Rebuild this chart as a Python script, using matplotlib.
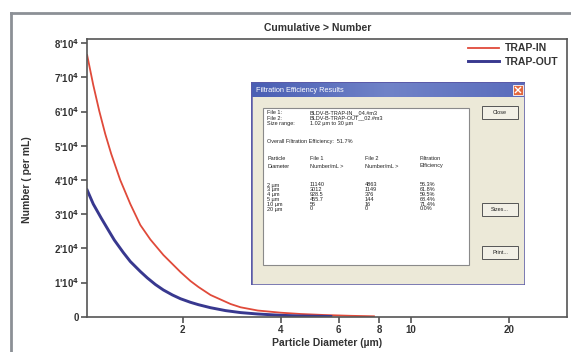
import numpy as np
import matplotlib.pyplot as plt
from matplotlib.patches import Rectangle
from matplotlib.lines import Line2D
from matplotlib.colors import LinearSegmentedColormap

# cumulative number (> d)
d_in = [1.021, 1.066, 1.112, 1.16, 1.21, 1.289, 1.384, 1.485, 1.594, 1.747, 1.97, 2.114, 2.237,
        2.435, 2.805, 3.01, 3.395, 3.993, 4.598, 5.409, 6.546, 7.7]
n_in = [76500, 67750, 60150, 53420, 47570, 39970, 32950, 26810, 22570, 18040, 13070, 10440, 8680,
        6350, 3710, 2750, 1810, 1170, 790, 500, 260, 120]
d_out = [1.021, 1.066, 1.127, 1.185, 1.236, 1.317, 1.384, 1.485, 1.561, 1.651, 1.747, 1.862, 1.97,
         2.114, 2.237, 2.435, 2.707, 3.01, 3.395, 3.993, 4.598, 5.683]
n_out = [37050, 32950, 28860, 25350, 22430, 18770, 16140, 13220, 11320, 9420, 7810, 6350, 5260,
         4210, 3510, 2630, 1780, 1200, 790, 410, 200, 60]

x_ticks = [2, 4, 6, 8, 10, 20]
y_ticks = [0, 1e4, 2e4, 3e4, 4e4, 5e4, 6e4, 7e4, 8e4]
y_labels = ["0"] + [r"%d'10$^{\mathbf{4}}$" % k for k in range(1, 9)]

# dialog table
sizes = ["2 \u00b5m", "3 \u00b5m", "4 \u00b5m", "5 \u00b5m", "10 \u00b5m", "20 \u00b5m"]
file1 = ["11140", "3012", "928.5", "455.7", "56", "0"]
file2 = ["4863", "1149", "376", "144", "16", "0"]
eff = ["56.3%", "61.8%", "59.5%", "68.4%", "71.4%", "0.0%"]

W, H = 571, 352
def fx(px):
    return px / W
def fy(py):
    return 1 - py / H

plt.rcParams['font.family'] = ['Liberation Sans', 'DejaVu Sans']

fig = plt.figure(figsize=(W / 100, H / 100), dpi=100)

# outer grey frame of the window
fig.add_artist(Line2D([fx(11), fx(11)], [0, fy(13)], color='#8c9096', lw=2))
fig.add_artist(Line2D([fx(11), 1], [fy(13), fy(13)], color='#8c9096', lw=2))

ax = fig.add_axes([fx(87), fy(316.7), fx(567) - fx(87), (316.7 - 39) / H])
ax.plot(d_in, n_in, color='#e04a3a', lw=1.3, label='TRAP-IN')
ax.plot(d_out, n_out, color='#38388f', lw=2.1, label='TRAP-OUT')
ax.set_xscale('log')
ax.set_xlim(1.02, 30)
ax.set_ylim(0, 81200)
ax.set_xticks(x_ticks)
ax.set_xticklabels([str(t) for t in x_ticks])
ax.xaxis.set_minor_locator(plt.NullLocator())
ax.set_yticks(y_ticks)
ax.set_yticklabels(y_labels)
ax.tick_params(labelsize=7, length=4, width=1.2, color='#555555', pad=2)
for lab in ax.get_xticklabels() + ax.get_yticklabels():
    lab.set_fontweight('bold')
    lab.set_color('#333333')
for s in ax.spines.values():
    s.set_color('#555555')
    s.set_linewidth(1.2)

ax.set_xlabel('Particle Diameter (\u00b5m)', fontsize=7.5, fontweight='bold', color='#333333', labelpad=2)
fig.text(fx(27), fy(180), 'Number ( per mL)', rotation=90, ha='center', va='center',
         fontsize=7.5, fontweight='bold', color='#333333')
fig.text(fx(318), fy(28), 'Cumulative > Number', ha='center', va='center',
         fontsize=7.5, fontweight='bold', color='#333333')

leg = ax.legend(loc='upper right', bbox_to_anchor=(fx(563), fy(39)), bbox_transform=fig.transFigure,
                frameon=False, prop={'weight': 'bold', 'size': 7.5}, handlelength=3.0,
                handletextpad=0.6, labelspacing=0.35, borderaxespad=0)
for t in leg.get_texts():
    t.set_color('#333333')

# dialog box drawn in local pixel coordinates
dx0, dy0, dx1, dy1 = 251, 82, 525, 285
dlg = fig.add_axes([fx(dx0), fy(dy1), fx(dx1) - fx(dx0), (dy1 - dy0) / H])
dlg.set_xlim(0, dx1 - dx0)
dlg.set_ylim(dy1 - dy0, 0)
dlg.axis('off')
dlg.add_patch(Rectangle((0, 0), dx1 - dx0, dy1 - dy0, facecolor='#ece9d8', edgecolor='#5a5aa8', lw=1.8))
grad = np.linspace(0, 1, 100).reshape(1, -1)
tb = LinearSegmentedColormap.from_list('tb', ['#4a5fb4', '#7083c8', '#5a6cbc'])
dlg.imshow(grad, extent=(1, dx1 - dx0 - 1, 15, 1), cmap=tb, aspect='auto', zorder=1)
dlg.text(5, 8.5, 'Filtration Efficiency Results', color='white', fontsize=5.3, va='center', zorder=3)
dlg.add_patch(Rectangle((262, 3), 10, 10, facecolor='#e2683e', edgecolor='white', lw=0.6, zorder=3))
dlg.plot([264.5, 269.5], [5.5, 10.5], color='white', lw=1, zorder=4)
dlg.plot([264.5, 269.5], [10.5, 5.5], color='white', lw=1, zorder=4)

dlg.add_patch(Rectangle((12, 26), 206, 157, facecolor='white', edgecolor='#8a8a8a', lw=0.8, zorder=2))
for (by, lab) in [(24, 'Close'), (121, 'Sizes...'), (164, 'Print...')]:
    dlg.add_patch(Rectangle((231, by), 36, 13, facecolor='#f2f0e6', edgecolor='#555555', lw=0.7, zorder=2))
    dlg.text(249, by + 6.5, lab, fontsize=4.0, ha='center', va='center', color='#222222', zorder=3)

fs = 4.0
tc = '#222222'
dlg.text(16, 31, 'File 1:', fontsize=fs, color=tc, va='center', zorder=3)
dlg.text(59, 31, 'BLDV-B-TRAP-IN__04.#m3', fontsize=fs, color=tc, va='center', zorder=3)
dlg.text(16, 36, 'File 2:', fontsize=fs, color=tc, va='center', zorder=3)
dlg.text(59, 36, 'BLDV-B-TRAP-OUT__02.#m3', fontsize=fs, color=tc, va='center', zorder=3)
dlg.text(16, 41, 'Size range:', fontsize=fs, color=tc, va='center', zorder=3)
dlg.text(59, 41, '1.02 \u00b5m to 30 \u00b5m', fontsize=fs, color=tc, va='center', zorder=3)
dlg.text(16, 60, 'Overall Filtration Efficiency:  51.7%', fontsize=fs, color=tc, va='center', zorder=3)
for x, a, b in [(16, 'Particle', 'Diameter'), (59, 'File 1', 'Number/mL >'),
                (114, 'File 2', 'Number/mL >'), (169, 'Filtration', 'Efficiency')]:
    dlg.text(x, 77, a, fontsize=fs, color=tc, va='center', zorder=3)
    dlg.text(x, 84, b, fontsize=fs, color=tc, va='center', zorder=3)
for i in range(len(sizes)):
    yy = 103 + 4.8 * i
    dlg.text(16, yy, sizes[i], fontsize=fs, color=tc, va='center', zorder=3)
    dlg.text(59, yy, file1[i], fontsize=fs, color=tc, va='center', zorder=3)
    dlg.text(114, yy, file2[i], fontsize=fs, color=tc, va='center', zorder=3)
    dlg.text(169, yy, eff[i], fontsize=fs, color=tc, va='center', zorder=3)

fig.savefig('out.png', dpi=100)
